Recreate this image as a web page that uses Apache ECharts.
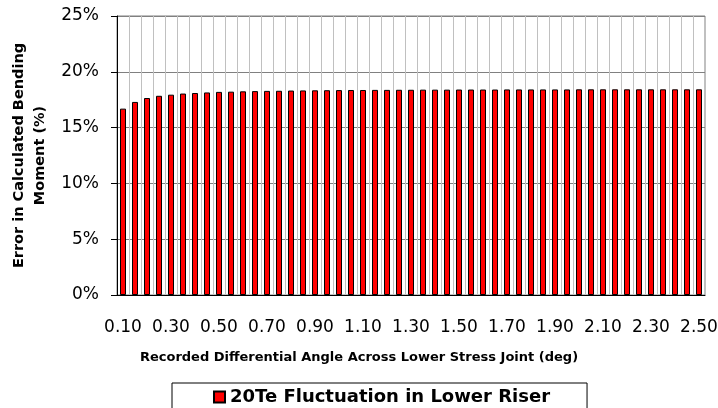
<!DOCTYPE html>
<html>
<head>
<meta charset="utf-8">
<script src="https://cdn.jsdelivr.net/npm/echarts@6/dist/echarts.min.js"></script>
<style>
  html, body { margin: 0; padding: 0; background: #fff; }
  #chart { width: 718px; height: 408px; }
</style>
</head>
<body>
<div id="chart"></div>
<script>
// recorded differential angle (deg)
const angles = [
  '0.10', '0.15', '0.20', '0.25', '0.30', '0.35', '0.40', '0.45', '0.50', '0.55',
  '0.60', '0.65', '0.70', '0.75', '0.80', '0.85', '0.90', '0.95', '1.00', '1.05',
  '1.10', '1.15', '1.20', '1.25', '1.30', '1.35', '1.40', '1.45', '1.50', '1.55',
  '1.60', '1.65', '1.70', '1.75', '1.80', '1.85', '1.90', '1.95', '2.00', '2.05',
  '2.10', '2.15', '2.20', '2.25', '2.30', '2.35', '2.40', '2.45', '2.50'
];
// error in calculated bending moment (%)
const errorPct = [
  16.7, 17.3, 17.65, 17.85, 17.95, 18.05, 18.1, 18.15, 18.2, 18.22,
  18.25, 18.27, 18.29, 18.3, 18.32, 18.33, 18.34, 18.35, 18.36, 18.37,
  18.37, 18.38, 18.38, 18.39, 18.39, 18.4, 18.4, 18.4, 18.41, 18.41,
  18.41, 18.41, 18.42, 18.42, 18.42, 18.42, 18.42, 18.42, 18.43, 18.43,
  18.43, 18.43, 18.43, 18.43, 18.43, 18.43, 18.43, 18.43, 18.43
];
const seriesName = '20Te Fluctuation in Lower Riser';

const font = '"DejaVu Sans", Verdana, sans-serif';

const chart = echarts.init(document.getElementById('chart'));
chart.setOption({
  animation: false,
  textStyle: { fontFamily: font },
  // x axis title is centred on the whole picture, not on the plot
  title: {
    text: 'Recorded Differential Angle Across Lower Stress Joint (deg)',
    left: 'center',
    top: 351,
    padding: 0,
    textStyle: { fontFamily: font, fontSize: 13, fontWeight: 'bold', color: '#000' }
  },
  grid: {
    left: 117,
    right: 13,
    top: 16,
    bottom: 113,
    outerBoundsMode: 'none',
    show: true,
    borderColor: '#808080',
    borderWidth: 1
  },
  legend: {
    data: [seriesName],
    left: 172,
    top: 383,
    padding: [5, 37, 20, 41],
    borderColor: '#000',
    borderWidth: 1,
    icon: 'rect',
    itemWidth: 11,
    itemHeight: 11,
    itemGap: 5,
    textStyle: { fontFamily: font, fontSize: 18, fontWeight: 'bold', color: '#000' }
  },
  xAxis: {
    type: 'category',
    data: angles,
    axisLine: { lineStyle: { color: '#000', width: 1 } },
    axisTick: { interval: 0, length: 5, lineStyle: { color: '#808080' } },
    axisLabel: { interval: 3, margin: 24, fontSize: 17, color: '#000', fontFamily: font },
    splitLine: { show: true, interval: 0, lineStyle: { color: '#c0c0c0', width: 1 } }
  },
  yAxis: {
    type: 'value',
    min: 0,
    max: 25,
    interval: 5,
    name: 'Error in Calculated Bending\nMoment (%)',
    nameLocation: 'middle',
    nameGap: 66,
    nameTextStyle: { fontFamily: font, fontSize: 14.5, fontWeight: 'bold', color: '#000', lineHeight: 21 },
    axisLine: { show: true, lineStyle: { color: '#000', width: 1 } },
    axisTick: { show: true, length: 6, lineStyle: { color: '#000' } },
    axisLabel: { formatter: '{value}%', margin: 18, fontSize: 17, color: '#000', fontFamily: font },
    splitLine: { lineStyle: { color: '#808080', width: 1 } }
  },
  series: [{
    name: seriesName,
    type: 'bar',
    data: errorPct,
    barWidth: 6,
    itemStyle: {
      color: '#ff0000',
      borderColor: '#000',
      borderWidth: 1
    }
  }]
});
</script>
</body>
</html>
